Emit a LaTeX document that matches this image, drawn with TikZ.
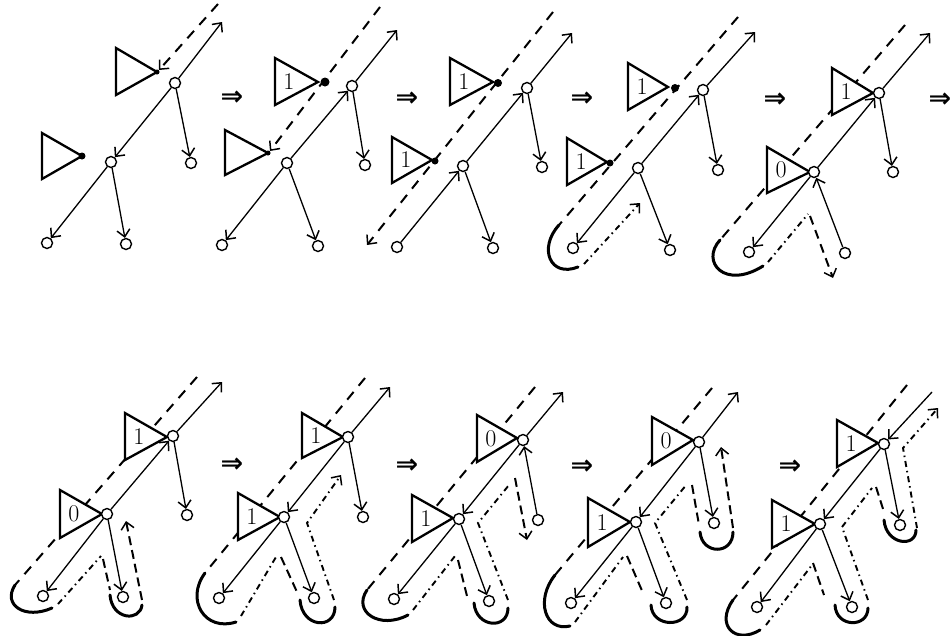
\documentclass[tikz,border=0pt]{standalone}
\usepackage{fontspec}
\newfontfamily\arrowfont{DejaVu Sans}
\usetikzlibrary{arrows.meta}
\tikzset{
 vtx/.style={circle,draw,line width=1.4pt,fill=white,inner sep=0pt,minimum size=11pt},
 barb/.style={-{Straight Barb[length=7pt,width=13pt,line width=1.5pt]}},
 edge/.style={line width=1.3pt,barb},
 trig/.style={line width=2.3pt,line join=miter,fill=white},
 lab/.style={font=\fontsize{24}{24}\selectfont,inner sep=0pt},
 dsh/.style={line width=2pt,dash pattern=on 10pt off 8pt},
 dd/.style={line width=1.9pt,dash pattern=on 6pt off 4pt on 1.5pt off 4pt},
 hook/.style={line width=3pt,line cap=round},
 tipdot/.style={circle,fill,inner sep=0pt,minimum size=7pt},
 nxt/.style={font=\arrowfont\bfseries\fontsize{27}{27}\selectfont,inner sep=0pt},
}
\newcommand\trng[7]{\draw[trig] (#2,#3) -- (#5,#6) -- (#2,#4) -- cycle;
  \node[lab] (#1) at ({#2+14},{(#3+#4)/2}) {#7};}
\newcommand\vset[6]{% prefix, U, L, LL, LR, UR
  \node[vtx] (#1U) at (#2) {};
  \node[vtx] (#1L) at (#3) {};
  \node[vtx] (#1LL) at (#4) {};
  \node[vtx] (#1LR) at (#5) {};
  \node[vtx] (#1UR) at (#6) {};}
\begin{document}
\begin{tikzpicture}[x=1pt,y=-1pt]
\useasboundingbox (0,0) rectangle (952,635);
% ---------- panel 1
\draw[dsh,barb] (218,4) -- (159,70);
\trng{aA}{116}{48}{95}{157}{72}{}
\trng{aB}{42}{133}{179}{82}{156}{}
\node[tipdot] (aDb) at (82,156) {};
\node[tipdot,minimum size=5pt] (aDa) at (157,72) {};
\vset{a}{175,83}{111,162}{47,243}{126,244}{191,163}
\coordinate (aT) at (222,22);
\draw[edge] (aU) -- (aL); \draw[edge] (aL) -- (aLL); \draw[edge] (aL) -- (aLR);
\draw[edge] (aU) -- (aUR); \draw[edge] (aU) -- (aT);
\node[nxt] (n1) at (232,98) {⇒};
% ---------- panel 2
\draw[dsh,barb] (380,7) -- (270,151);
\trng{bA}{275}{58}{105}{318}{82}{1}
\trng{bB}{225}{130}{175}{268}{153}{}
\node[tipdot,minimum size=9pt] (bDa) at (325,82) {};
\node[tipdot,minimum size=5pt] (bDb) at (268,153) {};
\vset{b}{352,86}{287,163}{222,245}{318,246}{365,165}
\coordinate (bT) at (397,30);
\draw[edge] (bL) -- (bU); \draw[edge] (bL) -- (bLL); \draw[edge] (bL) -- (bLR);
\draw[edge] (bU) -- (bUR); \draw[edge] (bU) -- (bT);
\node[nxt] (n2) at (407,99) {⇒};
% ---------- panel 3
\draw[dsh,barb] (553,12) -- (367,245);
\trng{cA}{450}{58}{105}{493}{82}{1}
\trng{cB}{392}{137}{183}{432}{160}{1}
\node[tipdot,minimum size=8pt] (cDa) at (498,83) {};
\node[tipdot] (cDb) at (435,161) {};
\vset{c}{527,88}{463,166}{397,247}{493,248}{542,167}
\coordinate (cT) at (572,33);
\draw[edge] (cLL) -- (cL); \draw[edge] (cL) -- (cU); \draw[edge] (cL) -- (cLR);
\draw[edge] (cU) -- (cUR); \draw[edge] (cU) -- (cT);
\node[nxt] (n3) at (582,99) {⇒};
% ---------- panel 4
\draw[dsh] (738,17) -- (559,225);
\draw[hook] (559,225) .. controls (538,248) and (550,278) .. (578,267);
\draw[dd,barb] (584,264) -- (640,203);
\trng{dA}{628}{63}{110}{668}{87}{1}
\trng{dB}{567}{138}{185}{607}{162}{1}
\node[tipdot,minimum size=8pt] (dDa) at (675,88) {};
\node[tipdot] (dDb) at (610,163) {};
\vset{d}{703,90}{638,168}{573,248}{670,250}{718,170}
\coordinate (dT) at (755,32);
\draw[edge] (dL) -- (dU); \draw[edge] (dL) -- (dLL); \draw[edge] (dL) -- (dLR);
\draw[edge] (dU) -- (dUR); \draw[edge] (dU) -- (dT);
\node[nxt] (n4) at (775,100) {⇒};
% ---------- panel 5
\draw[dsh] (905,25) -- (720,240);
\draw[hook] (720,240) .. controls (700,262) and (725,290) .. (763,266);
\draw[dd] (768,262) -- (808,214);
\draw[dsh,barb,dash pattern=on 9pt off 6pt] (810,216) -- (833,278);
\trng{eA}{832}{68}{115}{873}{93}{1}
\trng{eB}{767}{147}{193}{810}{172}{0}
\vset{e}{879,93}{814,172}{749,252}{845,253}{893,172}
\coordinate (eT) at (930,33);
\draw[edge] (eL) -- (eU); \draw[edge] (eL) -- (eLL); \draw[edge] (eLR) -- (eL);
\draw[edge] (eU) -- (eUR); \draw[edge] (eU) -- (eT);
\node[nxt] (n5) at (940,100) {⇒};
% ---------- panel 6
\draw[dsh] (197,377) -- (15,585);
\draw[hook] (15,585) .. controls (2,605) and (25,620) .. (52,608);
\draw[dd] (58,604) -- (101,556);
\draw[dsh,dash pattern=on 9pt off 5pt] (103,559) -- (110,590);
\draw[hook] (110,595) .. controls (112,620) and (140,622) .. (142,605);
\draw[dsh,barb,dash pattern=on 9pt off 5pt] (142,600) -- (126,521);
\trng{fA}{125}{413}{460}{167}{437}{1}
\trng{fB}{60}{490}{538}{102}{514}{0}
\vset{f}{173,436}{107,514}{43,596}{123,597}{187,515}
\coordinate (fT) at (222,382);
\draw[edge] (fL) -- (fU); \draw[edge] (fL) -- (fLL); \draw[edge] (fL) -- (fLR);
\draw[edge] (fU) -- (fUR); \draw[edge] (fU) -- (fT);
\node[nxt] (n6) at (232,465) {⇒};
% ---------- panel 7
\draw[dsh] (365,378) -- (205,573);
\draw[hook] (205,573) .. controls (185,600) and (205,632) .. (236,622);
\draw[dd] (241,616) -- (276,557);
\draw[dsh,dash pattern=on 9pt off 5pt] (281,557) -- (297,592);
\draw[hook] (300,600) .. controls (302,628) and (335,630) .. (335,607);
\draw[dd,barb] (334,600) -- (307,523) -- (341,475);
\trng{gA}{302}{413}{458}{343}{437}{1}
\trng{gB}{238}{493}{540}{280}{517}{1}
\vset{g}{348,437}{284,517}{219,598}{314,598}{363,517}
\coordinate (gT) at (390,387);
\draw[edge] (gU) -- (gL); \draw[edge] (gL) -- (gLL); \draw[edge] (gL) -- (gLR);
\draw[edge] (gU) -- (gUR); \draw[edge] (gU) -- (gT);
\node[nxt] (n7) at (407,466) {⇒};
% ---------- panel 8
\draw[dsh] (535,387) -- (367,590);
\draw[hook] (367,590) .. controls (352,612) and (380,630) .. (408,615);
\draw[dd] (413,610) -- (455,556);
\draw[dsh,dash pattern=on 9pt off 5pt] (458,560) -- (467,596);
\draw[hook] (474,603) .. controls (476,628) and (508,630) .. (508,608);
\draw[dd] (508,600) -- (478,523) -- (509,485);
\draw[dsh,barb,dash pattern=on 9pt off 5pt] (515,478) -- (527,540);
\trng{hA}{477}{415}{462}{517}{438}{0}
\trng{hB}{412}{495}{542}{453}{518}{1}
\vset{h}{523,440}{459,519}{394,599}{489,601}{538,520}
\coordinate (hT) at (563,392);
\draw[edge] (hU) -- (hL); \draw[edge] (hL) -- (hLL); \draw[edge] (hL) -- (hLR);
\draw[edge] (hUR) -- (hU); \draw[edge] (hU) -- (hT);
\node[nxt] (n8) at (582,467) {⇒};
% ---------- panel 9
\draw[dsh] (712,388) -- (555,575);
\draw[hook] (555,575) .. controls (535,600) and (545,632) .. (570,626);
\draw[dd] (575,622) -- (623,557);
\draw[dsh,dash pattern=on 9pt off 5pt] (627,556) -- (643,593);
\draw[hook] (651,605) .. controls (652,628) and (688,628) .. (687,607);
\draw[dd] (687,600) -- (655,523) -- (687,484);
\draw[dsh,dash pattern=on 9pt off 5pt] (692,485) -- (699,525);
\draw[hook] (700,532) .. controls (702,555) and (733,555) .. (733,532);
\draw[dsh,barb,dash pattern=on 9pt off 5pt] (733,528) -- (721,447);
\trng{iA}{652}{417}{465}{693}{440}{0}
\trng{iB}{588}{498}{547}{630}{522}{1}
\vset{i}{699,442}{636,522}{571,603}{666,603}{714,523}
\coordinate (iT) at (738,392);
\draw[edge] (iU) -- (iL); \draw[edge] (iL) -- (iLL); \draw[edge] (iL) -- (iLR);
\draw[edge] (iU) -- (iUR); \draw[edge] (iU) -- (iT);
\node[nxt] (n9) at (790,467) {⇒};
% ---------- panel 10
\draw[dsh] (907,385) -- (733,600);
\draw[hook] (733,600) .. controls (715,625) and (735,645) .. (760,630);
\draw[dd] (766,625) -- (812,565);
\draw[dsh,dash pattern=on 9pt off 5pt] (813,563) -- (824,595);
\draw[hook] (835,605) .. controls (836,628) and (868,628) .. (868,608);
\draw[dd] (868,600) -- (842,527) -- (872,488);
\draw[dsh,dash pattern=on 9pt off 5pt] (876,487) -- (884,512);
\draw[hook] (884,520) .. controls (886,545) and (916,548) .. (916,530);
\draw[dd,barb] (917,528) -- (903,448) -- (938,408);
\trng{jA}{837}{420}{467}{878}{443}{1}
\trng{jB}{772}{500}{548}{815}{524}{1}
\vset{j}{884,444}{820,524}{757,607}{852,607}{900,525}
\coordinate (jT) at (932,392);
\draw[edge] (jT) -- (jU); \draw[edge] (jU) -- (jL); \draw[edge] (jL) -- (jLL);
\draw[edge] (jL) -- (jLR); \draw[edge] (jU) -- (jUR);
\end{tikzpicture}
\end{document}
